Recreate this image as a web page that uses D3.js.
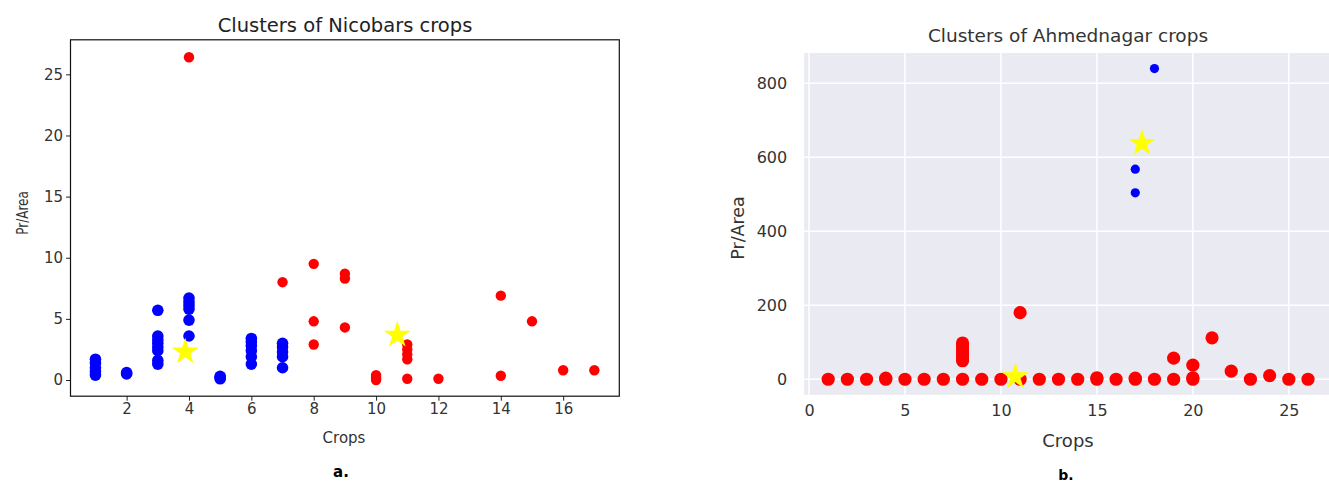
<!DOCTYPE html>
<html><head><meta charset="utf-8">
<script src="https://cdn.jsdelivr.net/npm/d3@7"></script>
<style>body{margin:0;background:#fff}svg{display:block}text{font-family:"DejaVu Sans",sans-serif}</style>
</head><body><svg id="c" width="1329" height="485"></svg>
<script>
// ---- Panel a: Nicobars ----
const nicobarsBlueCrops  = [1,1,1,1,1, 2,2, 3,3,3,3,3,3,3,3, 4,4,4,4,4,4, 5,5,5, 6,6,6,6,6,6, 7,7,7,7,7];
const nicobarsBlueValues = [1.7,1.4,1.0,0.7,0.4, 0.5,0.6, 5.7,3.6,3.3,3.0,2.7,2.4,1.6,1.3, 6.7,6.4,6.1,5.8,4.9,3.6, 0.1,0.2,0.3, 3.4,3.1,2.8,2.4,1.9,1.3, 3.0,2.7,2.3,1.9,1.0];
const nicobarsRedCrops   = [4, 7, 8,8,8, 9,9,9, 10,10,10,10, 11,11,11,11,11, 12, 14,14, 15, 16, 17];
const nicobarsRedValues  = [26.4, 8.0, 9.5,4.8,2.9, 8.7,8.3,4.3, 0.4,0.25,0.1,0.0, 2.9,2.5,2.1,1.7,0.1, 0.1, 6.9,0.35, 4.8, 0.8, 0.8];
const nicobarsCentroidCrops  = [3.88, 10.68];
const nicobarsCentroidValues = [2.3, 3.68];
const nicobarsXTicks = [2,4,6,8,10,12,14,16];
const nicobarsYTicks = [0,5,10,15,20,25];

// ---- Panel b: Ahmednagar ----
const ahmedRedCrops  = [1,2,3,4,4,5,6,7,8,8,8,8,8,8,8,8,9,10,11,11,12,13,14,15,15,16,17,17,18,19,19,20,20,20,21,22,23,24,25,26];
const ahmedRedValues = [0,0,0,0,3,0,0,0,0,50,58,66,74,82,90,98,0,0,0,180,0,0,0,0,4,0,0,3,0,0,57,0,4,38,112,22,0,10,0,0];
const ahmedBlueCrops  = [17,17,18];
const ahmedBlueValues = [568,504,840];
const ahmedCentroidCrops  = [10.75, 17.35];
const ahmedCentroidValues = [7, 638];
const ahmedXTicks = [0,5,10,15,20,25];
const ahmedYTicks = [0,200,400,600,800];

const svg = d3.select("#c");
const zip = (a,b)=>a.map((v,i)=>[v,b[i]]);
const star = d3.symbol().type(d3.symbolStar).size(225);

// ===== Panel a =====
{
  const x = d3.scaleLinear().domain([0.2,17.8]).range([70.5,619.3]);
  const y = d3.scaleLinear().domain([-1.325,27.825]).range([396.2,39.8]);
  const g = svg.append("g");
  g.append("g").attr("transform","translate(0,396.2)")
    .call(d3.axisBottom(x).tickValues(nicobarsXTicks).tickSize(4.5).tickPadding(3).tickSizeOuter(0))
    .call(a=>{a.select(".domain").remove();a.selectAll("line").attr("stroke","#222");
      a.selectAll("text").attr("font-size",15).attr("fill","#333").attr("font-family","DejaVu Sans");});
  g.append("g").attr("transform","translate(70.5,0)")
    .call(d3.axisLeft(y).tickValues(nicobarsYTicks).tickSize(4.5).tickPadding(3).tickSizeOuter(0))
    .call(a=>{a.select(".domain").remove();a.selectAll("line").attr("stroke","#222");
      a.selectAll("text").attr("font-size",15).attr("fill","#333").attr("font-family","DejaVu Sans");});
  g.selectAll(".b").data(zip(nicobarsBlueCrops,nicobarsBlueValues)).join("circle")
    .attr("cx",d=>x(d[0])).attr("cy",d=>y(d[1])).attr("r",5.8).attr("fill","#0000ff");
  g.selectAll(".r").data(zip(nicobarsRedCrops,nicobarsRedValues)).join("circle")
    .attr("cx",d=>x(d[0])).attr("cy",d=>y(d[1])).attr("r",5.2).attr("fill","#ff0000");
  g.selectAll(".s").data(zip(nicobarsCentroidCrops,nicobarsCentroidValues)).join("path")
    .attr("d",star).attr("transform",d=>`translate(${x(d[0])},${y(d[1])})`).attr("fill","#ffff00");
  g.append("rect").attr("x",70.5).attr("y",39.8).attr("width",619.3-70.5).attr("height",396.2-39.8)
    .attr("fill","none").attr("stroke","#111").attr("stroke-width",1.2);
  g.append("text").attr("x",345).attr("y",31.5).attr("text-anchor","middle").attr("font-size",19.5).attr("fill","#222").text("Clusters of Nicobars crops");
  g.append("text").attr("x",344).attr("y",443).attr("text-anchor","middle").attr("font-size",15).attr("fill","#333").text("Crops");
  g.append("text").attr("transform","translate(28,213) rotate(-90) scale(1,1.35)").attr("text-anchor","middle").attr("font-size",12).attr("fill","#333").text("Pr/Area");
  g.append("text").attr("x",341).attr("y",477).attr("text-anchor","middle").attr("font-size",15).attr("font-weight","bold").attr("font-family","Liberation Serif").attr("fill","#000").text("a.");
}

// ===== Panel b =====
{
  const x = d3.scaleLinear().domain([-0.25,27.25]).range([804.2,1332]);
  const y = d3.scaleLinear().domain([-42,882]).range([394.8,53]);
  const g = svg.append("g");
  g.append("rect").attr("x",804.2).attr("y",53).attr("width",1332-804.2).attr("height",394.8-53).attr("fill","#eaeaf2");
  g.append("g").selectAll("line").data(ahmedXTicks).join("line")
    .attr("x1",d=>x(d)).attr("x2",d=>x(d)).attr("y1",53).attr("y2",394.8).attr("stroke","#fff").attr("stroke-width",1.5);
  g.append("g").selectAll("line").data(ahmedYTicks).join("line")
    .attr("x1",804.2).attr("x2",1332).attr("y1",d=>y(d)).attr("y2",d=>y(d)).attr("stroke","#fff").attr("stroke-width",1.5);
  g.append("g").attr("transform","translate(0,394.8)")
    .call(d3.axisBottom(x).tickValues(ahmedXTicks).tickSize(0).tickPadding(10))
    .call(a=>{a.select(".domain").remove();
      a.selectAll("text").attr("font-size",16).attr("fill","#333").attr("font-family","DejaVu Sans");});
  g.append("g").attr("transform","translate(804.2,0)")
    .call(d3.axisLeft(y).tickValues(ahmedYTicks).tickSize(0).tickPadding(17))
    .call(a=>{a.select(".domain").remove();
      a.selectAll("text").attr("font-size",16).attr("fill","#333").attr("font-family","DejaVu Sans");});
  g.selectAll(".r").data(zip(ahmedRedCrops,ahmedRedValues)).join("circle")
    .attr("cx",d=>x(d[0])).attr("cy",d=>y(d[1])).attr("r",6.6).attr("fill","#ff0000");
  g.selectAll(".b").data(zip(ahmedBlueCrops,ahmedBlueValues)).join("circle")
    .attr("cx",d=>x(d[0])).attr("cy",d=>y(d[1])).attr("r",4.6).attr("fill","#0000ff");
  g.selectAll(".s").data(zip(ahmedCentroidCrops,ahmedCentroidValues)).join("path")
    .attr("d",star).attr("transform",d=>`translate(${x(d[0])},${y(d[1])})`).attr("fill","#ffff00");
  g.append("text").attr("x",1068).attr("y",41.5).attr("text-anchor","middle").attr("font-size",18.5).attr("fill","#333").text("Clusters of Ahmednagar crops");
  g.append("text").attr("x",1068).attr("y",447).attr("text-anchor","middle").attr("font-size",18).attr("fill","#333").text("Crops");
  g.append("text").attr("transform","translate(744,228) rotate(-90)").attr("text-anchor","middle").attr("font-size",17.5).attr("fill","#333").text("Pr/Area");
  g.append("text").attr("x",1066).attr("y",480).attr("text-anchor","middle").attr("font-size",14).attr("font-weight","bold").attr("font-family","Liberation Serif").attr("fill","#000").text("b.");
}
</script></body></html>
